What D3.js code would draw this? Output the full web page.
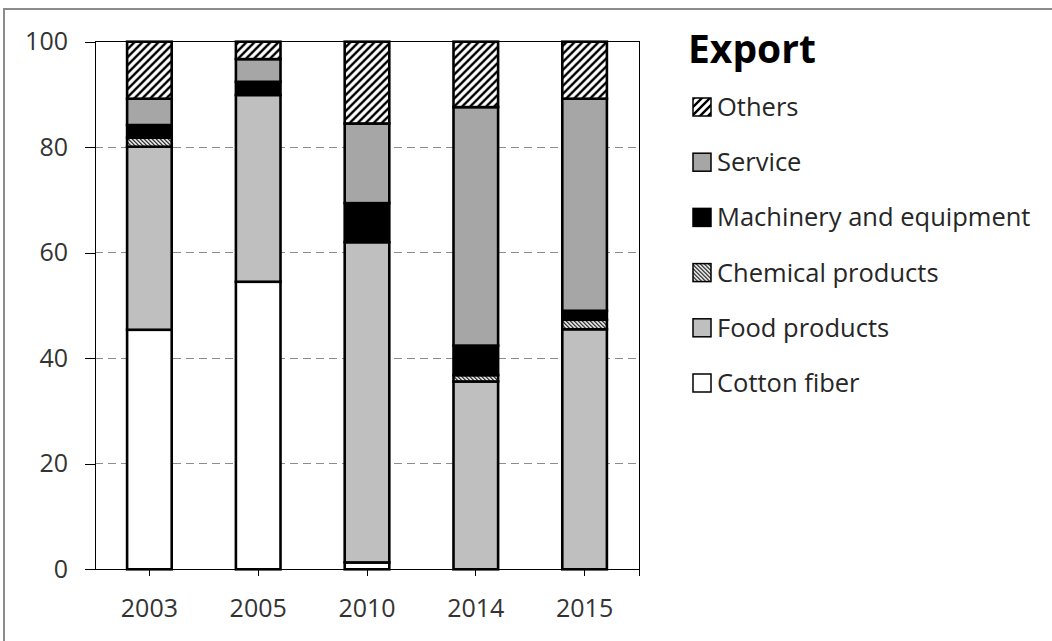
<!DOCTYPE html>
<html>
<head>
<meta charset="utf-8">
<title>Export</title>
<script src="https://d3js.org/d3.v7.min.js"></script>
<style>
    body {
        margin: 0;
        background: #fff;
    }
    svg {
        font-family: "Open Sans", sans-serif;
    }
    .axis text {
        fill: #333;
        font-family: "Open Sans", sans-serif;
        font-size: 25px;
    }
    .axis path,
    .axis line {
        stroke: #000;
        shape-rendering: crispEdges;
    }
    .grid line {
        stroke: #8c8c8c;
        stroke-dasharray: 8 5;
        shape-rendering: crispEdges;
    }
    .legend text {
        fill: #262626;
        font-size: 25.5px;
    }
</style>
</head>
<body>
<script>
    // chart data (percent of exports)
    var years = ["2003", "2005", "2010", "2014", "2015"];
    var cotton = [45.4, 54.5, 1.3, 0, 0];
    var food = [34.7, 35.4, 60.7, 35.6, 45.5];
    var chemical = [1.7, 0, 0, 1.2, 1.8];
    var machinery = [2.4, 2.5, 7.4, 5.6, 1.7];
    var service = [5.0, 4.3, 15.1, 45.2, 40.2];
    var others = [10.8, 3.3, 15.5, 12.4, 10.8];
    var seriesNames = ["Cotton fiber", "Food products", "Chemical products", "Machinery and equipment", "Service", "Others"];
    var yTicks = [0, 20, 40, 60, 80, 100];

    var W = 1052, H = 641;
    var margin = {top: 41.7, left: 95, right: 413, bottom: 71.7};
    var width = W - margin.left - margin.right,
        height = H - margin.top - margin.bottom;

    // one row per year for d3.stack
    var keys = ["cotton", "food", "chemical", "machinery", "service", "others"];
    var columns = [cotton, food, chemical, machinery, service, others];
    var rows = years.map(function(y, i) {
        var r = {year: y};
        keys.forEach(function(k, j) { r[k] = columns[j][i]; });
        return r;
    });
    var stacked = d3.stack().keys(keys)(rows);

    var fills = {
        cotton: "#ffffff",
        food: "#bfbfbf",
        chemical: "url(#hatchChem)",
        machinery: "#000000",
        service: "#a6a6a6",
        others: "url(#hatchOthers)"
    };

    var svg = d3.select("body").append("svg")
        .attr("width", W)
        .attr("height", H);

    // hatch patterns
    var defs = svg.append("defs");
    defs.append("pattern")
        .attr("id", "hatchOthers")
        .attr("patternUnits", "userSpaceOnUse")
        .attr("width", 8).attr("height", 8)
        .call(function(p) {
            p.append("rect").attr("width", 8).attr("height", 8).attr("fill", "#fff");
            p.append("path")
                .attr("d", "M-2,2 l4,-4 M0,8 l8,-8 M6,10 l4,-4")
                .attr("stroke", "#000").attr("stroke-width", 2.4);
        });
    defs.append("pattern")
        .attr("id", "hatchChem")
        .attr("patternUnits", "userSpaceOnUse")
        .attr("width", 4).attr("height", 4)
        .call(function(p) {
            p.append("rect").attr("width", 4).attr("height", 4).attr("fill", "#fff");
            p.append("path")
                .attr("d", "M-1,-1 l6,6 M-1,3 l2,2 M3,-1 l2,2")
                .attr("stroke", "#000").attr("stroke-width", 1.2);
        });

    // outer frame (right and bottom edges fall outside the picture)
    svg.append("rect")
        .attr("x", 4).attr("y", 9)
        .attr("width", W + 10).attr("height", H + 10)
        .attr("fill", "none")
        .attr("stroke", "#8c8c8c")
        .attr("stroke-width", 2);

    var g = svg.append("g")
        .attr("transform", "translate(" + margin.left + "," + margin.top + ")");

    var x = d3.scaleBand()
        .domain(years)
        .range([0, width])
        .paddingInner(0.59)
        .paddingOuter(0.295);

    var y = d3.scaleLinear()
        .domain([0, 100])
        .range([height, 0]);

    // dashed gridlines
    g.append("g")
        .attr("class", "grid")
        .selectAll("line")
        .data(yTicks.filter(function(d) { return d > 0 && d < 100; }))
        .enter().append("line")
        .attr("x1", 0).attr("x2", width)
        .attr("y1", function(d) { return y(d); })
        .attr("y2", function(d) { return y(d); });

    // plot area top and right edges
    g.append("path")
        .attr("d", "M0," + y(100) + "H" + width + "V" + height)
        .attr("fill", "none")
        .attr("stroke", "#000")
        .attr("shape-rendering", "crispEdges");

    // stacked bars
    g.selectAll(".layer")
        .data(stacked)
        .enter().append("g")
        .attr("class", "layer")
        .attr("fill", function(d) { return fills[d.key]; })
        .selectAll("rect")
        .data(function(d) { return d.filter(function(s) { return s[1] - s[0] > 0; }); })
        .enter().append("rect")
        .attr("x", function(d) { return x(d.data.year); })
        .attr("width", x.bandwidth())
        .attr("y", function(d) { return y(d[1]); })
        .attr("height", function(d) { return y(d[0]) - y(d[1]); })
        .attr("stroke", "#000")
        .attr("stroke-width", 2.6);

    // axes
    g.append("g")
        .attr("class", "axis")
        .call(d3.axisLeft(y).tickValues(yTicks).tickSize(10).tickPadding(17).tickSizeOuter(0));

    var xAxis = g.append("g")
        .attr("class", "axis")
        .attr("transform", "translate(0," + height + ")")
        .call(d3.axisBottom(x).tickSize(7).tickPadding(23).tickSizeOuter(0));
    // small closing tick at the right end of the x axis
    xAxis.append("line")
        .attr("x1", width).attr("x2", width)
        .attr("y1", 0).attr("y2", 7)
        .attr("stroke", "#000");

    // legend
    var legend = svg.append("g")
        .attr("class", "legend");

    legend.append("text")
        .attr("x", 688)
        .attr("y", 63)
        .style("font-size", "39px")
        .style("font-weight", "bold")
        .style("fill", "#000")
        .text("Export");

    var legendKeys = keys.slice().reverse();
    var legendNames = seriesNames.slice().reverse();
    var item = legend.selectAll(".item")
        .data(legendKeys)
        .enter().append("g")
        .attr("class", "item")
        .attr("transform", function(d, i) { return "translate(693," + (107 + i * 55.2) + ")"; });

    item.append("rect")
        .attr("x", 0).attr("y", -9)
        .attr("width", 18).attr("height", 18)
        .attr("fill", function(d) { return fills[d]; })
        .attr("stroke", "#000")
        .attr("stroke-width", 1.5);

    item.append("text")
        .attr("x", 24)
        .attr("dy", "0.35em")
        .text(function(d, i) { return legendNames[i]; });
</script>
</body>
</html>
